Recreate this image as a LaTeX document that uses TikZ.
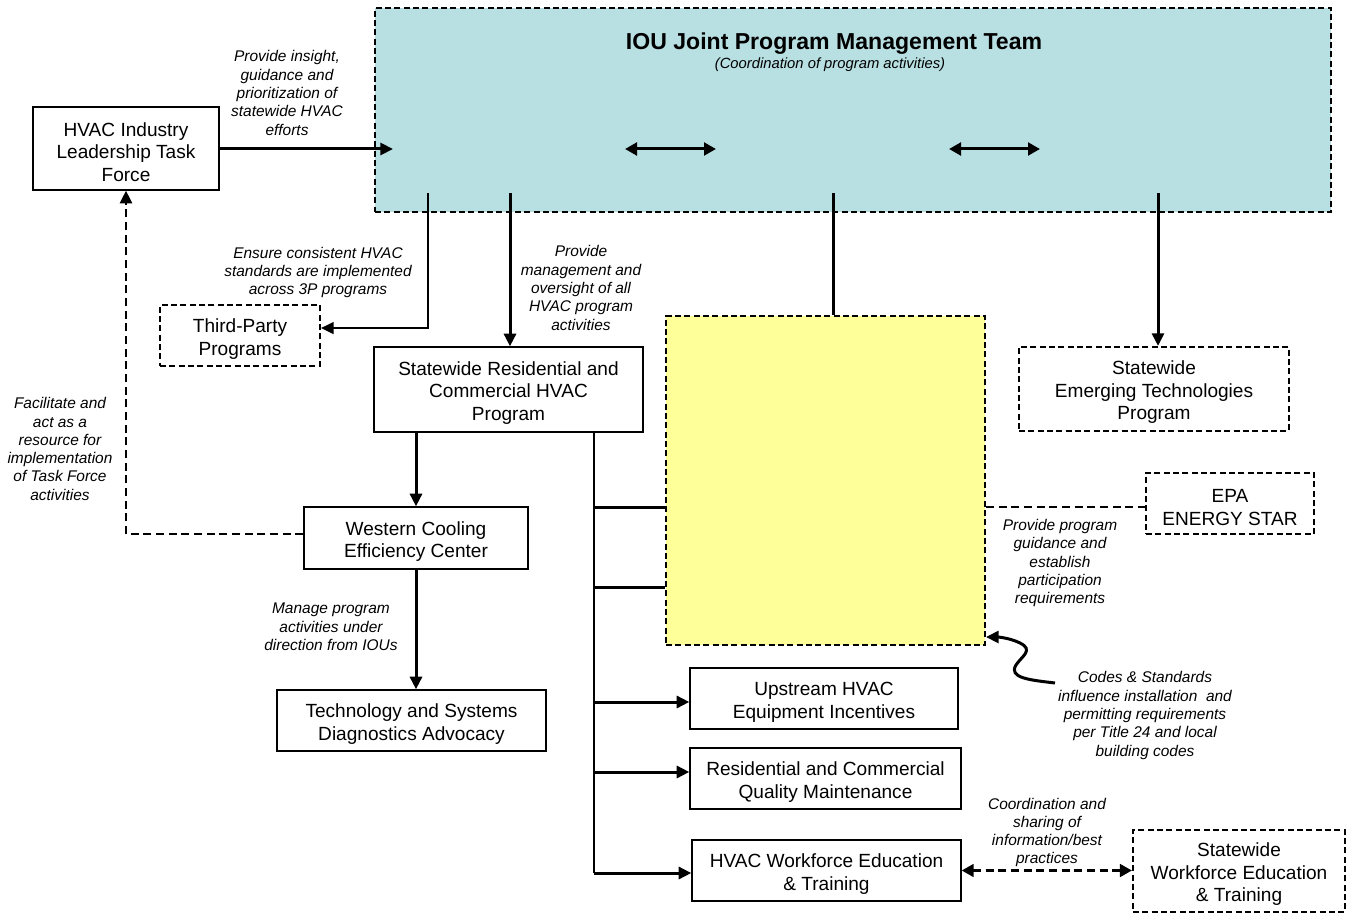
\documentclass[tikz,border=0pt]{standalone}
\usepackage{fontspec}
\setmainfont{Liberation Sans}
\usetikzlibrary{arrows.meta}
\definecolor{iouBlue}{RGB}{184,223,226}
\definecolor{noteYellow}{RGB}{255,255,153}
% extra room above the first line of a box caption
\newcommand{\toppad}{\rule{0pt}{15.5pt}}

\begin{document}
\begin{tikzpicture}[x=0.75pt,y=-0.75pt,
  W/.style={minimum width=#1*0.75pt},
  H/.style={minimum height=#1*0.75pt},
  boxtext/.style={font=\fontsize{14.3}{16.9}\selectfont, align=center},
  box/.style={draw, line width=1pt, fill=white, inner sep=0pt, boxtext},
  dbox/.style={draw, line width=1.6pt, dash pattern=on 4.5pt off 2.5pt, fill=white, inner sep=0pt, boxtext},
  note/.style={font=\itshape\fontsize{11.6}{13.7}\selectfont, align=center, inner sep=0pt},
  tip/.style={-{Triangle[length=9.5pt,width=9pt]}},
  both/.style={{Triangle[length=9pt,width=9.5pt]}-{Triangle[length=9pt,width=9.5pt]}},
  heavy/.style={line width=2.25pt},
  light/.style={line width=1.2pt},
  dashlink/.style={line width=2pt, dash pattern=on 6pt off 3.5pt},
]
% page frame
\fill[white] (0,0) rectangle (1348,913);
\useasboundingbox (0,0) rectangle (1348,913);

% management team panel
\node[dbox, fill=iouBlue, W=956, H=204] (iou) at (853,110) {};
\node[font=\bfseries\fontsize{17.3}{20}\selectfont, inner sep=0pt] (title) at (834,43.5) {IOU Joint Program Management Team};
\node[font=\itshape\fontsize{11.1}{13}\selectfont, inner sep=0pt] (subtitle) at (830,65) {(Coordination of program activities)};

% boxes
\node[box, W=186, H=83] (tf) at (126,148.5) {\toppad HVAC Industry\\Leadership Task\\Force};
\node[dbox, W=160, H=61] (tp) at (240,335.5) {\toppad Third-Party\\Programs};
\node[box, W=269, H=85] (sr) at (508.5,389.5) {\toppad Statewide Residential and\\Commercial HVAC\\Program};
\node[box, W=224, H=62] (wc) at (416,538) {\toppad Western Cooling\\Efficiency Center};
\node[box, W=269, H=61] (te) at (411.5,720.5) {\toppad Technology and Systems\\Diagnostics Advocacy};
\node[dbox, fill=noteYellow, W=319, H=329] (yel) at (825.5,480.5) {};
\node[dbox, W=270, H=84] (em) at (1154,389) {\toppad Statewide\\Emerging Technologies\\Program};
\node[dbox, W=168, H=61] (epa) at (1230,503.5) {\toppad EPA\\ENERGY STAR};
\node[box, W=268, H=61] (up) at (824,698.5) {\toppad Upstream HVAC\\Equipment Incentives};
\node[box, W=271, H=61] (qm) at (825.5,778.5) {\toppad Residential and Commercial\\Quality Maintenance};
\node[box, W=269, H=61] (wf) at (826.5,870.5) {\toppad HVAC Workforce Education\\\& Training};
\node[dbox, W=212, H=82] (swf) at (1239,871) {\toppad Statewide\\Workforce Education\\\& Training};

% connector end points
\coordinate (tfin) at (393,149);
\coordinate (ar1a) at (625,149);
\coordinate (ar1b) at (716,149);
\coordinate (ar2a) at (949,149);
\coordinate (ar2b) at (1040,149);
\coordinate (d3p) at (428,193);
\coordinate (dsr) at (510,193);
\coordinate (dyel) at (833,193);
\coordinate (dem) at (1158,193);
\coordinate (bus) at (594,432);
\coordinate (busend) at (594,873);
\coordinate (b1) at (594,507);
\coordinate (b2) at (594,587);
\coordinate (b3) at (594,702);
\coordinate (b4) at (594,772);
\coordinate (cs) at (1055,683);
\coordinate (cstip) at (986,637);

% connectors
\draw[heavy,tip] (tf.east |- tfin) -- (tfin);
\draw[heavy,both] (ar1a) -- (ar1b);
\draw[heavy,both] (ar2a) -- (ar2b);
\draw[light,tip] (d3p) |- ([yshift=5.6pt]tp.east);
\draw[heavy,tip] (dsr) -- (dsr |- sr.north);
\draw[heavy] (dyel) -- (dyel |- yel.north);
\draw[heavy,tip] (dem) -- (dem |- em.north);
\draw[heavy,tip] (wc.north |- sr.south) -- (wc.north);
\draw[heavy,tip] (wc.south) -- (wc.south |- te.north);
\draw[dashlink,tip] ([yshift=3pt]wc.west) -| (tf.south);
\draw[light] (bus) -- (busend);
\draw[heavy] (b1) -- (b1 -| yel.west);
\draw[heavy] (b2) -- (b2 -| yel.west);
\draw[heavy,tip] (b3) -- (b3 -| up.west);
\draw[heavy,tip] (b4) -- (b4 -| qm.west);
\draw[heavy,tip] (busend) -- (busend -| wf.west);
\draw[dashlink] (b1 -| yel.east) -- (b1 -| epa.west);
\draw[dashlink,both] (wf.east) -- (swf.west |- wf.east);
\draw[heavy,tip] (cs) .. controls (1030,680) and (1008,678) .. (1016,665)
  .. controls (1022,656) and (1034,650) .. (1020,643)
  .. controls (1010,638) and (998,637) .. (cstip);

% annotations
\node[note] (n1) at (287,93) {Provide insight,\\guidance and\\prioritization of\\statewide HVAC\\efforts};
\node[note] (n2) at (318,272.5) {Ensure consistent HVAC\\standards are implemented\\across 3P programs};
\node[note] (n3) at (581,288) {Provide\\management and\\oversight of all\\HVAC program\\activities};
\node[note] (n4) at (60,449) {Facilitate and\\act as a\\resource for\\implementation\\of Task Force\\activities};
\node[note] (n5) at (331,627) {Manage program\\activities under\\direction from IOUs};
\node[note] (n6) at (1060,563) {Provide program\\guidance and\\establish\\participation\\requirements};
\node[note] (n7) at (1145,715.5) {Codes \& Standards\\influence installation\ \ and\\permitting requirements\\per Title 24 and local\\building codes};
\node[note] (n8) at (1047,832.5) {Coordination and\\sharing of\\information/best\\practices};
\end{tikzpicture}
\end{document}
